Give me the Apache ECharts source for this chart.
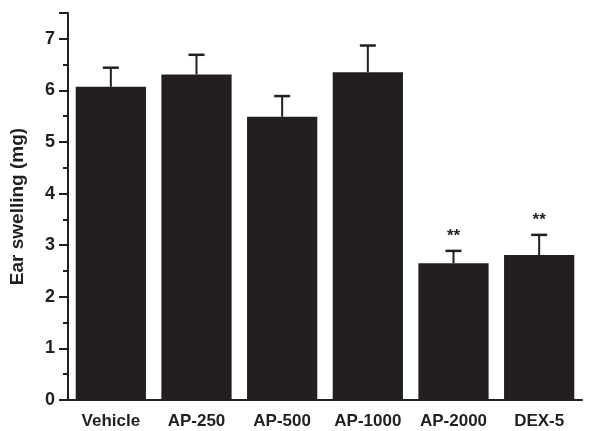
<!DOCTYPE html>
<html><head><meta charset="utf-8">
<script src="https://cdn.jsdelivr.net/npm/echarts@6/dist/echarts.min.js"></script>
<style>html,body{margin:0;padding:0;background:#fff}#c{width:589px;height:431px}</style>
</head><body><div id="c"></div>
<script>
var categories = ['Vehicle', 'AP-250', 'AP-500', 'AP-1000', 'AP-2000', 'DEX-5'];
var means = [6.07, 6.31, 5.49, 6.35, 2.65, 2.81];
var errors = [0.37, 0.38, 0.40, 0.52, 0.24, 0.39];
var stars = ['', '', '', '', '**', '**'];
var yTicks = [0, 1, 2, 3, 4, 5, 6, 7];

var chart = echarts.init(document.getElementById('c'));
var font = 'Liberation Sans, Arial, sans-serif';
var errData = categories.map(function (c, i) { return [i, means[i], errors[i], stars[i]]; });

chart.setOption({
  animation: false,
  grid: { left: 68, right: 7, top: 13, bottom: 31, containLabel: false },
  xAxis: [{
    type: 'category', data: categories, position: 'bottom',
    axisLine: { lineStyle: { color: '#231f20', width: 2 } },
    axisTick: { alignWithLabel: false, length: 4, lineStyle: { color: '#231f20', width: 2 } },
    axisLabel: { interval: 0, hideOverlap: false, color: '#231f20', fontFamily: font, fontWeight: 'bold', fontSize: 17, margin: 13 }
  }, {
    type: 'category', data: categories, position: 'bottom', gridIndex: 0,
    axisLine: { show: false },
    axisTick: { alignWithLabel: true, interval: 0, length: 7, lineStyle: { color: '#231f20', width: 2 } },
    axisLabel: { show: false }
  }],
  yAxis: {
    type: 'value', min: 0, max: 7.5, interval: 1,
    name: 'Ear swelling (mg)', nameLocation: 'middle', nameGap: 41,
    nameTextStyle: { color: '#231f20', fontFamily: font, fontWeight: 'bold', fontSize: 19 },
    axisLine: { show: true, lineStyle: { color: '#231f20', width: 2 } },
    axisTick: { show: true, length: 9, lineStyle: { color: '#231f20', width: 2 } },
    minorTick: { show: true, splitNumber: 2, length: 5, lineStyle: { color: '#231f20', width: 2 } },
    splitLine: { show: false },
    axisLabel: {
      color: '#231f20', fontFamily: font, fontWeight: 'bold', fontSize: 18, margin: 13,
      formatter: function (v) { return yTicks.indexOf(v) >= 0 ? String(v) : ''; }
    }
  },
  series: [{
    type: 'bar', data: means, barCategoryGap: '18%',
    itemStyle: { color: '#231f20' }, z: 2
  }, {
    type: 'custom', data: errData, z: 3,
    renderItem: function (params, api) {
      var x = api.value(0), m = api.value(1), e = api.value(2);
      var base = api.coord([x, m]);
      var top = api.coord([x, m + e]);
      var half = 8;
      var children = [
        { type: 'line', shape: { x1: base[0], y1: base[1], x2: top[0], y2: top[1] }, style: { stroke: '#231f20', lineWidth: 2 } },
        { type: 'line', shape: { x1: top[0] - half, y1: top[1], x2: top[0] + half, y2: top[1] }, style: { stroke: '#231f20', lineWidth: 2.5 } }
      ];
      var s = stars[params.dataIndex];
      if (s) {
        children.push({ type: 'text', style: { text: s, x: top[0], y: top[1] - 6, align: 'center', verticalAlign: 'bottom', fill: '#231f20', font: 'bold 17px ' + font } });
      }
      return { type: 'group', children: children };
    }
  }]
});
</script></body></html>
